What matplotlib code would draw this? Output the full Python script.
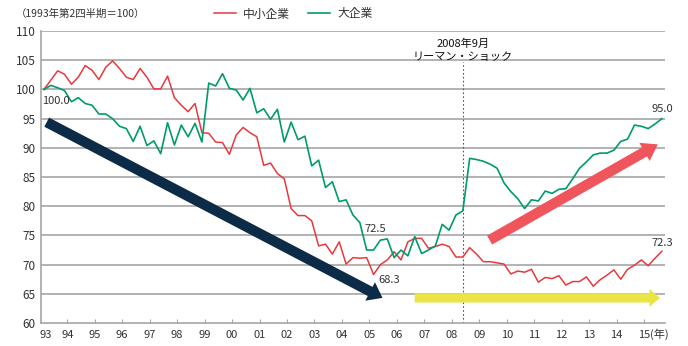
import matplotlib
matplotlib.use("Agg")
import matplotlib.pyplot as plt
from matplotlib.patches import FancyArrowPatch
from matplotlib.lines import Line2D

plt.rcParams['font.family'] = ['Noto Sans CJK JP', 'DejaVu Sans']

# quarterly index, 1993Q2 .. 2015Q4 (1993Q2 = 100)
small_firms = [
    100.0, 101.6, 103.2, 102.6, 100.9, 102.1, 104.1, 103.3, 101.7, 103.8,
    104.9, 103.6, 102.1, 101.7, 103.6, 102.1, 100.1, 100.1, 102.3, 98.6,
    97.3, 96.2, 97.6, 92.6, 92.5, 91.0, 90.9, 88.9, 92.2, 93.5,
    92.6, 91.9, 87.0, 87.4, 85.6, 84.7, 79.6, 78.4, 78.4, 77.5,
    73.2, 73.5, 71.8, 73.9, 70.1, 71.2, 71.1, 71.2, 68.3, 70.0,
    70.8, 72.2, 70.8, 73.9, 74.5, 74.5, 72.8, 73.1, 73.5, 73.1,
    71.3, 71.3, 72.9, 71.8, 70.5, 70.5, 70.3, 70.1, 68.4, 68.9,
    68.7, 69.2, 67.0, 67.8, 67.6, 68.1, 66.5, 67.1, 67.1, 67.9,
    66.3, 67.4, 68.2, 69.1, 67.5, 69.2, 69.9, 70.8, 69.8, 71.1,
    72.3,
]
large_firms = [
    100.0, 100.7, 100.3, 99.8, 97.9, 98.6, 97.6, 97.3, 95.8, 95.8,
    95.0, 93.7, 93.3, 91.1, 93.7, 90.4, 91.2, 89.0, 94.3, 90.5,
    93.9, 91.9, 94.2, 91.0, 101.1, 100.6, 102.7, 100.2, 99.9, 98.2,
    100.2, 96.0, 96.7, 94.9, 96.6, 91.0, 94.4, 91.4, 92.0, 86.9,
    87.9, 83.2, 84.2, 80.8, 81.1, 78.5, 77.2, 72.5, 72.5, 74.2,
    74.4, 71.2, 72.5, 71.5, 74.8, 71.9, 72.5, 73.2, 76.9, 75.9,
    78.5, 79.2, 88.2, 88.0, 87.7, 87.2, 86.5, 84.0, 82.5, 81.3,
    79.6, 81.1, 80.9, 82.6, 82.2, 82.9, 83.0, 84.7, 86.5, 87.6,
    88.8, 89.1, 89.1, 89.6, 91.1, 91.5, 93.9, 93.7, 93.3, 94.1,
    95.0,
]
quarters = list(range(len(small_firms)))
year_labels = ['93', '94', '95', '96', '97', '98', '99', '00', '01', '02', '03',
               '04', '05', '06', '07', '08', '09', '10', '11', '12', '13', '14', '15']
lehman_q = 61  # 2008Q3

RED = '#e8383d'
GREEN = '#009b6b'
GRID = '#a6a6a6'
TXT = '#333333'

fig = plt.figure(figsize=(6.88, 3.46), dpi=100)
ax = fig.add_axes([0.0603, 0.0665, 0.9063, 0.8436])

ax.set_ylim(60, 110)
ax.set_xlim(-0.36, 90.45)
ax.set_yticks(range(60, 111, 5))
for y in range(65, 111, 5):
    ax.axhline(y, color=GRID, lw=1.2, zorder=0)

ax.plot(quarters, small_firms, color=RED, lw=1.1, zorder=3)
ax.plot(quarters, large_firms, color=GREEN, lw=1.2, zorder=3)

# year ticks
xt = [0.3] + [3.4 + 4 * k for k in range(len(year_labels) - 1)]
ax.set_xticks(xt)
ax.set_xticklabels(year_labels)
ax.tick_params(axis='x', direction='in', length=3, width=0.8, color=GRID,
               labelsize=8, pad=5, labelcolor=TXT)
ax.tick_params(axis='y', length=0, labelsize=8.5, pad=4, labelcolor=TXT)
ax.xaxis.get_major_ticks()[0].tick1line.set_visible(False)

for s in ['top', 'right']:
    ax.spines[s].set_visible(False)
for s in ['left', 'bottom']:
    ax.spines[s].set_color(GRID)
    ax.spines[s].set_linewidth(1.2)

# Lehman shock marker
ax.vlines(lehman_q, 60, 104.7, colors='#555555', linestyles=(0, (1.5, 2)), lw=0.8, zorder=2)
ax.text(lehman_q, 107.9, '2008年9月', ha='center', va='center', fontsize=8, color='#111111')
ax.text(lehman_q, 105.6, 'リーマン・ショック', ha='center', va='center', fontsize=8, color='#111111')

# trend arrows
def big_arrow(p0, p1, color, tail, hw, hl):
    a = FancyArrowPatch(p0, p1, arrowstyle=f'simple,tail_width={tail},head_width={hw},head_length={hl}',
                        color=color, mutation_scale=1, shrinkA=0, shrinkB=0, zorder=4, lw=0)
    ax.add_patch(a)

big_arrow((0.4, 94.4), (49.3, 64.3), '#0c2b47', 7.4, 15, 10)
big_arrow((64.9, 74.2), (89.4, 90.6), '#ef555b', 7.4, 15, 11)
big_arrow((54.0, 64.3), (89.7, 64.3), '#eae445', 6.7, 13, 7.5)

# value labels
def tag(x, y, s, dx, dy, ha='center'):
    ax.annotate(s, (x, y), xytext=(dx, dy), textcoords='offset points',
                ha=ha, va='center', fontsize=8, color=TXT, zorder=5)

tag(quarters[0], large_firms[0], '100.0', -1.5, -8.6, ha='left')
tag(47, large_firms[47], '72.5', 6.2, 15)
tag(48, small_firms[48], '68.3', 11.3, -4)
tag(quarters[-1], large_firms[-1], '95.0', 0, 7)
tag(quarters[-1], small_firms[-1], '72.3', 0, 6)

# header texts
fig.text(16 / 688, 1 - 14 / 346, '（1993年第2四半期＝100）', ha='left', va='center',
         fontsize=7.5, color=TXT)
fig.text(650 / 688, 1 - 334 / 346, '(年)', ha='left', va='center', fontsize=8, color=TXT)

handles = [Line2D([], [], color=RED, lw=1.1), Line2D([], [], color=GREEN, lw=1.2)]
fig.legend(handles, ['中小企業', '大企業'], loc='center', bbox_to_anchor=(293 / 688, 1 - 14 / 346),
           ncol=2, frameon=False, fontsize=8.5, handlelength=1.9, columnspacing=1.5,
           handletextpad=0.6, labelcolor=TXT)

fig.savefig('out.png', dpi=100)
